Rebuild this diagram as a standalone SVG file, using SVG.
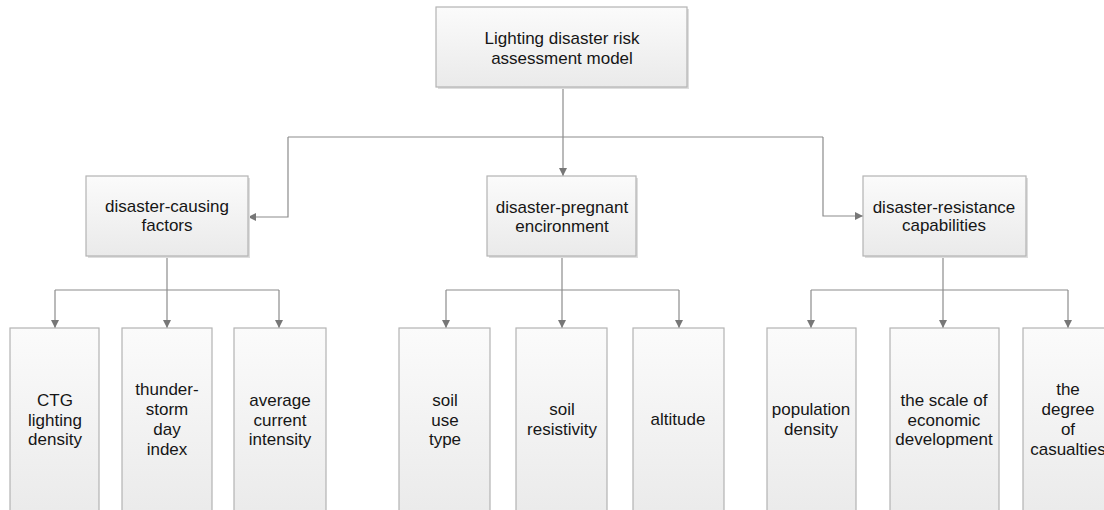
<svg xmlns="http://www.w3.org/2000/svg" width="1104" height="510" viewBox="0 0 1104 510">
<defs>
<linearGradient id="g" x1="0" y1="0" x2="0" y2="1">
<stop offset="0" stop-color="#fbfbfb"/>
<stop offset="1" stop-color="#eaeaea"/>
</linearGradient>
<marker id="arr" viewBox="0 0 8 8" refX="8" refY="4" markerWidth="8" markerHeight="8" markerUnits="userSpaceOnUse" orient="auto">
<path d="M0,0 L8,4 L0,8 z" fill="#777777"/>
</marker>
</defs>
<style>
.box{fill:url(#g);stroke:#b3b3b3;stroke-width:1.2}
.sh{fill:#dedede}
.t{font-family:"Liberation Sans",Arial,Helvetica,sans-serif;font-size:17px;fill:#161616;text-anchor:middle}
.c{fill:none;stroke:#8c8c8c;stroke-width:1.2}
</style>
<rect width="1104" height="510" fill="#ffffff"/>
<g id="connectors">
<path class="c" d="M563,87 V176" marker-end="url(#arr)"/>
<path class="c" d="M288,137 H823"/>
<path class="c" d="M288,137 V217 H248" marker-end="url(#arr)"/>
<path class="c" d="M823,137 V216 H863" marker-end="url(#arr)"/>
<path class="c" d="M167,256 V290"/>
<path class="c" d="M55,290 H279"/>
<path class="c" d="M55,290 V328" marker-end="url(#arr)"/>
<path class="c" d="M167,290 V328" marker-end="url(#arr)"/>
<path class="c" d="M279,290 V328" marker-end="url(#arr)"/>
<path class="c" d="M562,256 V290"/>
<path class="c" d="M446,290 H679"/>
<path class="c" d="M446,290 V328" marker-end="url(#arr)"/>
<path class="c" d="M562,290 V328" marker-end="url(#arr)"/>
<path class="c" d="M679,290 V328" marker-end="url(#arr)"/>
<path class="c" d="M943,256 V290"/>
<path class="c" d="M811,290 H1068"/>
<path class="c" d="M811,290 V328" marker-end="url(#arr)"/>
<path class="c" d="M943,290 V328" marker-end="url(#arr)"/>
<path class="c" d="M1068,290 V328" marker-end="url(#arr)"/>
</g>
<g id="root">
<rect class="sh" x="438" y="9" width="251" height="80"/>
<rect class="box" x="436" y="7" width="251" height="80"/>
<text class="t" x="562" y="44">Lighting disaster risk</text>
<text class="t" x="562" y="64">assessment model</text>
</g>
<g id="causing">
<rect class="sh" x="88" y="178" width="162" height="80"/>
<rect class="box" x="86" y="176" width="162" height="80"/>
<text class="t" x="167" y="212">disaster-causing</text>
<text class="t" x="167" y="231">factors</text>
</g>
<g id="pregnant">
<rect class="sh" x="489" y="178" width="149" height="80"/>
<rect class="box" x="487" y="176" width="149" height="80"/>
<text class="t" x="562" y="213">disaster-pregnant</text>
<text class="t" x="562" y="232">encironment</text>
</g>
<g id="resistance">
<rect class="sh" x="865" y="178" width="163" height="80"/>
<rect class="box" x="863" y="176" width="163" height="80"/>
<text class="t" x="944" y="213">disaster-resistance</text>
<text class="t" x="944" y="231">capabilities</text>
</g>
<g id="ctg">
<rect class="box" x="10" y="328" width="89" height="190"/>
<text class="t" x="55" y="406">CTG</text>
<text class="t" x="55" y="425.5">lighting</text>
<text class="t" x="55" y="445">density</text>
</g>
<g id="thunder">
<rect class="box" x="122" y="328" width="90" height="190"/>
<text class="t" x="167" y="395">thunder-</text>
<text class="t" x="167" y="415">storm</text>
<text class="t" x="167" y="435">day</text>
<text class="t" x="167" y="455">index</text>
</g>
<g id="current">
<rect class="box" x="234" y="328" width="92" height="190"/>
<text class="t" x="280" y="406">average</text>
<text class="t" x="280" y="425.5">current</text>
<text class="t" x="280" y="445">intensity</text>
</g>
<g id="soiluse">
<rect class="box" x="399" y="328" width="91" height="190"/>
<text class="t" x="445" y="406">soil</text>
<text class="t" x="445" y="425.5">use</text>
<text class="t" x="445" y="445">type</text>
</g>
<g id="resistivity">
<rect class="box" x="516" y="328" width="91" height="190"/>
<text class="t" x="562" y="415">soil</text>
<text class="t" x="562" y="435">resistivity</text>
</g>
<g id="altitude">
<rect class="box" x="633" y="328" width="91" height="190"/>
<text class="t" x="678" y="425">altitude</text>
</g>
<g id="population">
<rect class="box" x="767" y="328" width="89" height="190"/>
<text class="t" x="811" y="415">population</text>
<text class="t" x="811" y="435">density</text>
</g>
<g id="economic">
<rect class="box" x="890" y="328" width="109" height="190"/>
<text class="t" x="944" y="406">the scale of</text>
<text class="t" x="944" y="425.5">economic</text>
<text class="t" x="944" y="445">development</text>
</g>
<g id="casualties">
<rect class="box" x="1023" y="328" width="92" height="190"/>
<text class="t" x="1068" y="395">the</text>
<text class="t" x="1068" y="415">degree</text>
<text class="t" x="1068" y="435">of</text>
<text class="t" x="1068" y="455">casualties</text>
</g>
</svg>
